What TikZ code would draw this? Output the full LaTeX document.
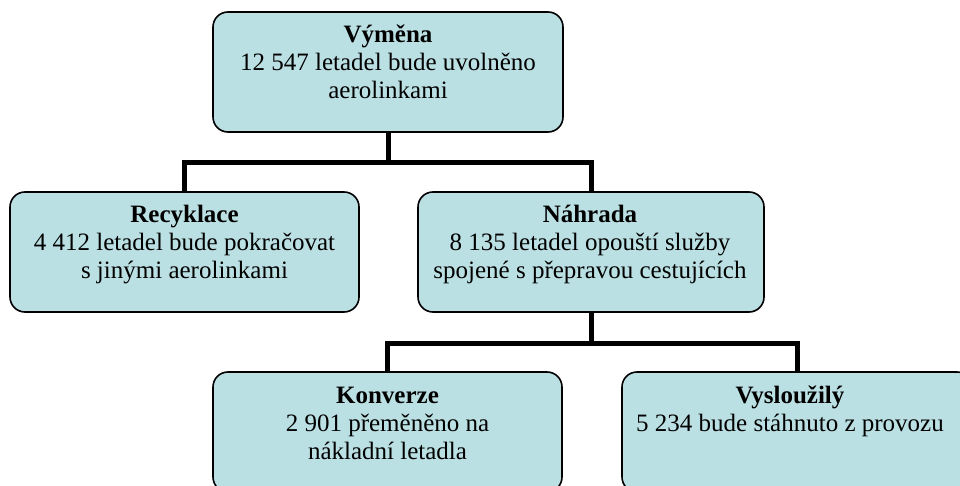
\documentclass[tikz,border=0pt]{standalone}
\usepackage{fontspec}
\setmainfont{Liberation Serif}
\definecolor{boxfill}{RGB}{187,224,227}
\tikzset{
  box/.style={draw=black, line width=1.6pt, fill=boxfill, rounded corners=15pt, minimum height=120pt, inner sep=0pt},
  conn/.style={draw=black, line width=5pt, line join=miter},
  txt/.style={anchor=north, align=center, inner sep=0pt, font=\fontsize{25}{28}\selectfont}
}
\begin{document}
\begin{tikzpicture}[x=1pt,y=-1pt]
\useasboundingbox (0,0) rectangle (960,486);
\clip (0,0) rectangle (960,486);
\fill[white] (0,0) rectangle (960,486);
% box positions
\coordinate (ptop) at (388,72);
\coordinate (prec) at (184.5,252);
\coordinate (pnah) at (591,252);
\coordinate (pkon) at (387.5,432);
\coordinate (pvys) at (797,432);
% placement nodes for connectors
\node[box, draw=none, fill=none, minimum width=350pt] (top) at (ptop) {};
\node[box, draw=none, fill=none, minimum width=349pt] (rec) at (prec) {};
\node[box, draw=none, fill=none, minimum width=346pt] (nah) at (pnah) {};
\node[box, draw=none, fill=none, minimum width=349pt] (kon) at (pkon) {};
\node[box, draw=none, fill=none, minimum width=350pt] (vys) at (pvys) {};
% connectors
\coordinate (j1) at (388,163);
\coordinate (j2) at (591,343);
\draw[conn] (top.south) -- (j1);
\draw[conn] (rec.north) -- (rec.north |- j1) -- (nah.north |- j1) -- (nah.north);
\draw[conn] (nah.south) -- (j2);
\draw[conn] (kon.north) -- (kon.north |- j2) -- (vys.north |- j2) -- (vys.north);
% visible boxes
\node[box, minimum width=350pt] (btop) at (ptop) {};
\node[box, minimum width=349pt] (brec) at (prec) {};
\node[box, minimum width=346pt] (bnah) at (pnah) {};
\node[box, minimum width=349pt] (bkon) at (pkon) {};
\node[box, minimum width=350pt] (bvys) at (pvys) {};
% texts
\node[txt] (ttop) at (388,22) {\rule{0pt}{20pt}\textbf{Výměna}\\12 547 letadel bude uvolněno\\aerolinkami};
\node[txt] (trec) at (184.5,202) {\rule{0pt}{20pt}\textbf{Recyklace}\\4 412 letadel bude pokračovat\\s jinými aerolinkami};
\node[txt] (tnah) at (590,202) {\rule{0pt}{20pt}\textbf{Náhrada}\\8 135 letadel opouští služby\\spojené s přepravou cestujících};
\node[txt] (tkon) at (387.5,383) {\rule{0pt}{20pt}\textbf{Konverze}\\2 901 přeměněno na\\nákladní letadla};
\node[txt] (tvys) at (790,383) {\rule{0pt}{20pt}\textbf{Vysloužilý}\\5 234 bude stáhnuto z provozu};
\end{tikzpicture}
\end{document}
